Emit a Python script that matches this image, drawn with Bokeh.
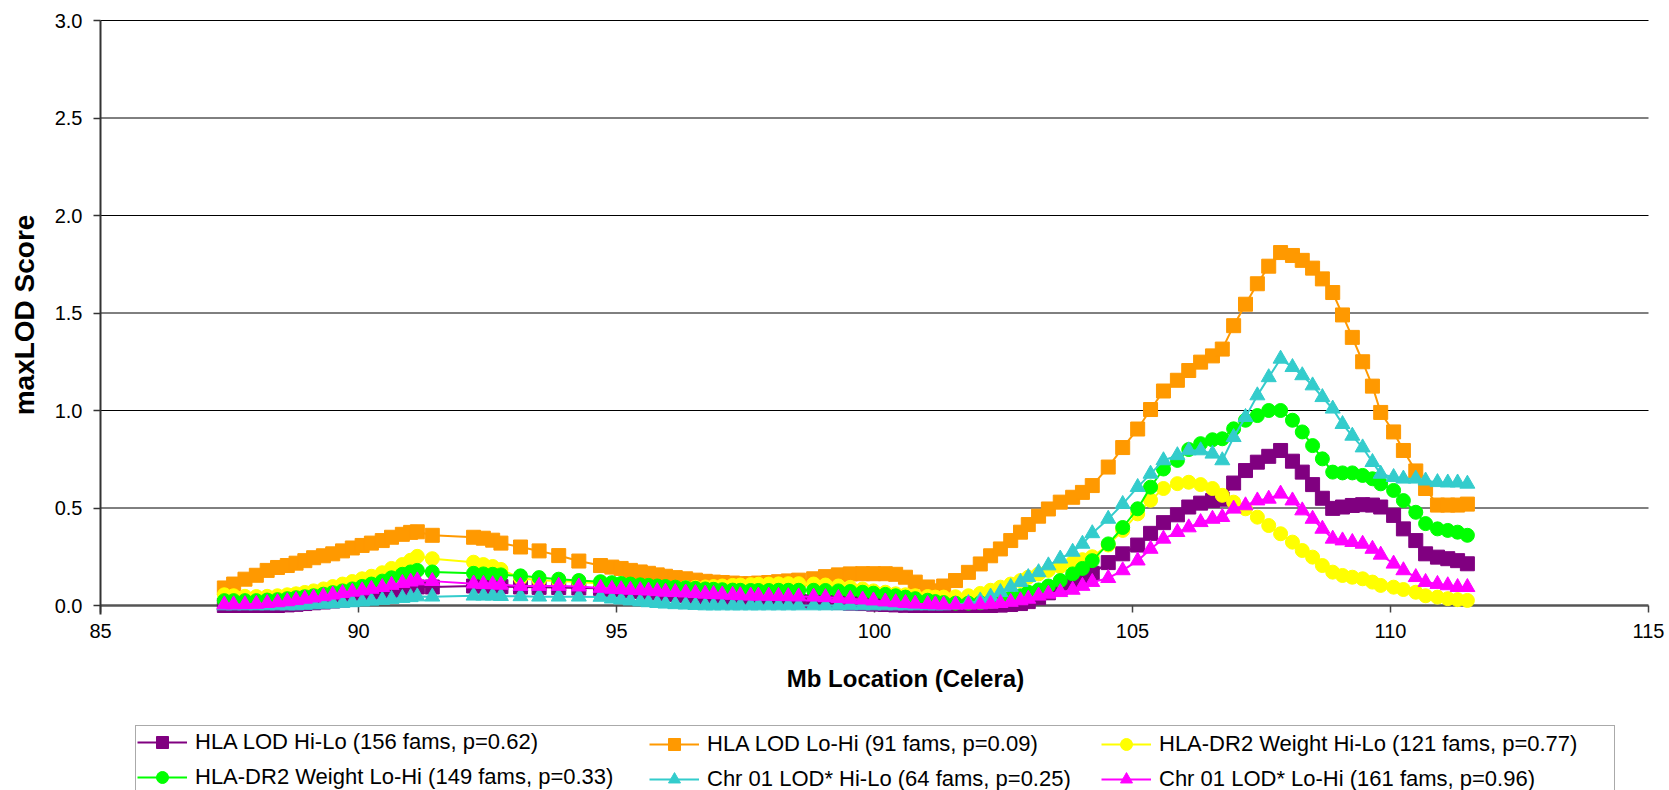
import math
from bokeh.plotting import figure
from bokeh.models import Range1d, FixedTicker, PrintfTickFormatter, Legend, LegendItem, Label
from bokeh.embed import file_html
from bokeh.resources import INLINE

# ---------------- data ----------------
x_ticks = [85, 90, 95, 100, 105, 110, 115]
y_ticks = [0.0, 0.5, 1.0, 1.5, 2.0, 2.5, 3.0]
x_title = "Mb Location (Celera)"
y_title = "maxLOD Score"

x_mb = [
    87.40, 87.58, 87.80, 88.02, 88.23, 88.43, 88.62, 88.79, 88.96, 89.13, 89.32,
    89.50, 89.69, 89.88, 90.07, 90.25, 90.46, 90.64, 90.85, 91.01, 91.14,
    91.43,
    92.23, 92.42, 92.60, 92.76,
    93.14, 93.50, 93.88, 94.27, 94.69,
    94.91, 95.09, 95.27, 95.46, 95.62, 95.79, 95.95, 96.14, 96.34, 96.53, 96.72,
    96.88, 97.05, 97.25, 97.40, 97.60, 97.75, 97.95, 98.14, 98.33, 98.53,
    98.82, 99.05, 99.30, 99.53, 99.77, 99.98, 100.21, 100.41, 100.60, 100.79,
    101.03, 101.18, 101.34, 101.57, 101.82, 102.05, 102.25, 102.44, 102.64, 102.83,
    102.98, 103.18, 103.37, 103.60, 103.84, 104.03, 104.22,
    104.53, 104.81, 105.10, 105.35, 105.60, 105.87, 106.09, 106.32, 106.55, 106.74,
    106.96, 107.19, 107.42, 107.64, 107.87, 108.10, 108.29, 108.49, 108.68, 108.88,
    109.07, 109.26, 109.46, 109.65, 109.81,
    110.06, 110.25, 110.49, 110.68, 110.91, 111.11, 111.30, 111.49,
]

hla_lod_hilo = [
    0, 0, 0, 0, 0, 0, 0.003, 0.006, 0.01, 0.014, 0.018,
    0.023, 0.028, 0.034, 0.04, 0.047, 0.055, 0.064, 0.074, 0.085, 0.095,
    0.095,
    0.10, 0.10, 0.098, 0.097,
    0.095, 0.093, 0.092, 0.09, 0.088,
    0.083, 0.08, 0.076, 0.072, 0.068, 0.064, 0.06, 0.056, 0.052, 0.048, 0.045,
    0.042, 0.04, 0.037, 0.035, 0.033, 0.031, 0.029, 0.027, 0.025, 0.023,
    0.02, 0.018, 0.015, 0.012, 0.01, 0.007, 0.005, 0.003, 0.001, 0,
    0, 0, 0, 0, 0, 0, 0, 0.002, 0.005, 0.01,
    0.02, 0.04, 0.065, 0.09, 0.115, 0.14, 0.165,
    0.22, 0.265, 0.31, 0.37, 0.425, 0.465, 0.505, 0.525, 0.538, 0.545,
    0.628, 0.692, 0.735, 0.765, 0.795, 0.74, 0.684, 0.62, 0.55, 0.498,
    0.505, 0.513, 0.517, 0.515, 0.505,
    0.462, 0.393, 0.333, 0.265, 0.248, 0.24, 0.23, 0.214,
]

hla_lod_lohi = [
    0.09, 0.11, 0.135, 0.155, 0.18, 0.195, 0.205, 0.217, 0.23, 0.245, 0.255,
    0.265, 0.28, 0.295, 0.308, 0.32, 0.333, 0.35, 0.365, 0.375, 0.378,
    0.36,
    0.35, 0.345, 0.335, 0.32,
    0.30, 0.28, 0.256, 0.228, 0.205,
    0.197, 0.19, 0.18, 0.172, 0.165, 0.157, 0.15, 0.143, 0.137, 0.13, 0.124,
    0.12, 0.118, 0.115, 0.112, 0.112, 0.115, 0.118, 0.122, 0.126, 0.13,
    0.137, 0.148, 0.157, 0.162, 0.163, 0.163, 0.163, 0.16, 0.145, 0.12,
    0.095, 0.075, 0.10, 0.128, 0.17, 0.213, 0.255, 0.29, 0.333, 0.376,
    0.415, 0.458, 0.495, 0.53, 0.555, 0.58, 0.615,
    0.71, 0.81, 0.905, 1.005, 1.10, 1.155, 1.205, 1.248, 1.28, 1.315,
    1.435, 1.545, 1.65, 1.74, 1.81, 1.795, 1.77, 1.73, 1.675, 1.605,
    1.49, 1.375, 1.25, 1.125, 0.99,
    0.89, 0.795, 0.69, 0.60, 0.515, 0.515, 0.515, 0.52,
]

dr2_weight_hilo = [
    0.055, 0.05, 0.047, 0.046, 0.047, 0.05, 0.055, 0.06, 0.067, 0.075, 0.085,
    0.097, 0.11, 0.123, 0.137, 0.15, 0.168, 0.19, 0.21, 0.232, 0.252,
    0.24,
    0.222, 0.21, 0.20, 0.185,
    0.14, 0.13, 0.125, 0.12, 0.113,
    0.108, 0.104, 0.10, 0.098, 0.096, 0.094, 0.093, 0.092, 0.092, 0.093, 0.095,
    0.097, 0.10, 0.103, 0.105, 0.107, 0.109, 0.11, 0.111, 0.112, 0.112,
    0.11, 0.105, 0.10, 0.093, 0.085, 0.075, 0.068, 0.06, 0.055, 0.05,
    0.046, 0.043, 0.043, 0.045, 0.05, 0.062, 0.078, 0.094, 0.11, 0.128,
    0.145, 0.162, 0.18, 0.2, 0.22, 0.235, 0.25,
    0.31, 0.385, 0.47, 0.54, 0.60, 0.625, 0.632, 0.62, 0.60, 0.565,
    0.53, 0.496, 0.453, 0.41, 0.368, 0.325, 0.282, 0.248, 0.205, 0.171,
    0.154, 0.145, 0.137, 0.12, 0.103,
    0.094, 0.082, 0.068, 0.05, 0.043, 0.035, 0.03, 0.026,
]

dr2_weight_lohi = [
    0.025, 0.025, 0.025, 0.025, 0.028, 0.03, 0.035, 0.04, 0.045, 0.05, 0.058,
    0.066, 0.075, 0.085, 0.098, 0.11, 0.125, 0.142, 0.16, 0.172, 0.18,
    0.172,
    0.165, 0.162, 0.16, 0.157,
    0.152, 0.143, 0.135, 0.128, 0.122,
    0.117, 0.113, 0.11, 0.106, 0.103, 0.10, 0.097, 0.094, 0.091, 0.088, 0.085,
    0.083, 0.081, 0.079, 0.078, 0.077, 0.077, 0.077, 0.078, 0.078, 0.078,
    0.078, 0.077, 0.075, 0.072, 0.068, 0.063, 0.057, 0.05, 0.043, 0.035,
    0.027, 0.02, 0.015, 0.012, 0.012, 0.014, 0.02, 0.028, 0.038, 0.05,
    0.068, 0.08, 0.10, 0.128, 0.162, 0.19, 0.23,
    0.316, 0.40, 0.496, 0.607, 0.70, 0.744, 0.80, 0.83, 0.85, 0.855,
    0.906, 0.95, 0.974, 1.0, 1.0, 0.95, 0.89, 0.82, 0.752, 0.684,
    0.68, 0.68, 0.667, 0.65, 0.624,
    0.59, 0.538, 0.478, 0.42, 0.393, 0.385, 0.376, 0.36,
]

chr01_lod_hilo = [
    0, 0, 0, 0, 0, 0, 0, 0, 0.003, 0.005, 0.008,
    0.01, 0.013, 0.016, 0.02, 0.024, 0.028, 0.033, 0.038, 0.042, 0.046,
    0.045,
    0.05, 0.05, 0.05, 0.048,
    0.047, 0.045, 0.045, 0.045, 0.044,
    0.035, 0.03, 0.025, 0.02, 0.016, 0.012, 0.009, 0.006, 0.004, 0.002, 0,
    0, 0, 0, 0, 0, 0, 0, 0, 0, 0,
    0, 0, 0, 0, 0, 0, 0, 0, 0, 0,
    0, 0, 0, 0.005, 0.012, 0.025, 0.045, 0.068, 0.095, 0.12,
    0.145, 0.17, 0.205, 0.24, 0.275, 0.316, 0.37,
    0.444, 0.52, 0.607, 0.675, 0.744, 0.77, 0.795, 0.795, 0.778, 0.744,
    0.863, 0.966, 1.077, 1.17, 1.265, 1.222, 1.18, 1.128, 1.068, 1.009,
    0.93, 0.87, 0.81, 0.735, 0.675,
    0.658, 0.65, 0.65, 0.64, 0.632, 0.63, 0.63, 0.624,
]

chr01_lod_lohi = [
    0.005, 0.005, 0.006, 0.008, 0.012, 0.016, 0.021, 0.027, 0.034, 0.04, 0.047,
    0.055, 0.063, 0.07, 0.077, 0.085, 0.094, 0.105, 0.115, 0.122, 0.128,
    0.125,
    0.112, 0.11, 0.108, 0.106,
    0.10, 0.10, 0.10, 0.097, 0.09,
    0.085, 0.083, 0.08, 0.078, 0.076, 0.073, 0.07, 0.068, 0.066, 0.063, 0.06,
    0.058, 0.056, 0.054, 0.052, 0.05, 0.05, 0.049, 0.048, 0.047, 0.046,
    0.045, 0.042, 0.038, 0.034, 0.03, 0.025, 0.02, 0.016, 0.012, 0.009,
    0.007, 0.005, 0.004, 0.004, 0.004, 0.005, 0.008, 0.012, 0.018, 0.026,
    0.034, 0.05, 0.06, 0.068, 0.08, 0.10, 0.12,
    0.14, 0.18, 0.23, 0.29, 0.342, 0.376, 0.40, 0.427, 0.444, 0.453,
    0.496, 0.513, 0.538, 0.547, 0.573, 0.538, 0.487, 0.444, 0.393, 0.342,
    0.333, 0.325, 0.316, 0.29, 0.26,
    0.214, 0.18, 0.145, 0.12, 0.11, 0.103, 0.094, 0.094,
]

series_labels = [
    "HLA LOD Hi-Lo (156 fams, p=0.62)",
    "HLA LOD Lo-Hi (91 fams, p=0.09)",
    "HLA-DR2 Weight Hi-Lo (121 fams, p=0.77)",
    "HLA-DR2 Weight Lo-Hi (149 fams, p=0.33)",
    "Chr 01 LOD* Hi-Lo (64 fams, p=0.25)",
    "Chr 01 LOD* Lo-Hi (161 fams, p=0.96)",
]
series_values = [hla_lod_hilo, hla_lod_lohi, dr2_weight_hilo,
                 dr2_weight_lohi, chr01_lod_hilo, chr01_lod_lohi]
series_colors = ["#800080", "#FF9900", "#FFFF00", "#00FF00", "#33CCCC", "#FF00FF"]
series_markers = ["square", "square", "circle", "circle", "triangle", "triangle"]
series_sizes = [14, 14, 14, 14, 15, 15]

for lab, vals in zip(series_labels, series_values):
    if len(vals) != len(x_mb):
        raise ValueError(f"{lab}: {len(vals)} values vs {len(x_mb)} x")

# ---------------- figure ----------------
FONT = "Liberation Sans"
W, H = 1669, 790
PX_X = 1548 / 30.0          # pixels per Mb
PX_Y = 585 / 3.0            # pixels per LOD unit
LEFT, TOP, ZERO_Y = 100, 20, 605   # pixel position of x=85, y=3.0, y=0

# The data frame covers the whole page, so that axes, titles and legend drawn
# inside it are never clipped; the axes sit at x = 85 and y = 0.
p = figure(width=W, height=H, output_backend="svg", toolbar_location=None,
           x_range=Range1d(85 - LEFT / PX_X, 115 + (W - LEFT - 1548) / PX_X),
           y_range=Range1d(-(H - ZERO_Y) / PX_Y, 3.0 + TOP / PX_Y),
           min_border_left=0, min_border_right=0, min_border_top=0,
           min_border_bottom=0, background_fill_color="white",
           border_fill_color="white")
p.outline_line_color = None
p.title.visible = False
p.xgrid.visible = False
p.ygrid.visible = False

# horizontal grid lines between x = 85 and x = 115
grid_y = y_ticks[1:]
p.segment(x0=[x_ticks[0]] * len(grid_y), x1=[x_ticks[-1]] * len(grid_y),
          y0=grid_y, y1=grid_y, line_color="black", line_width=1)

# y axis at x = 85
p.yaxis.fixed_location = x_ticks[0]
p.yaxis.bounds = (-0.046, y_ticks[-1])
p.yaxis.ticker = FixedTicker(ticks=y_ticks)
p.yaxis.formatter = PrintfTickFormatter(format="%.1f")
p.yaxis.axis_line_color = "#333333"
p.yaxis.axis_line_width = 2
p.yaxis.major_tick_line_color = "#333333"
p.yaxis.major_tick_line_width = 1.5
p.yaxis.major_tick_out = 7
p.yaxis.major_tick_in = 0
p.yaxis.minor_tick_line_color = None
p.yaxis.major_label_standoff = 11
p.yaxis.major_label_text_font = FONT
p.yaxis.major_label_text_font_size = "20px"
p.yaxis.major_label_text_color = "black"

# x axis at y = 0
p.xaxis.fixed_location = 0
p.xaxis.bounds = (x_ticks[0], x_ticks[-1])
p.xaxis.ticker = FixedTicker(ticks=x_ticks)
p.xaxis.axis_line_color = "#555555"
p.xaxis.axis_line_width = 2.5
p.xaxis.major_tick_line_color = "#444444"
p.xaxis.major_tick_line_width = 1.5
p.xaxis.major_tick_in = 0
p.xaxis.major_tick_out = 7
p.xaxis.minor_tick_line_color = None
p.xaxis.major_label_standoff = 11
p.xaxis.major_label_text_font = FONT
p.xaxis.major_label_text_font_size = "20px"
p.xaxis.major_label_text_color = "black"
p.xaxis.level = "underlay"

# axis titles
p.add_layout(Label(x=100.6, y=-0.374, text=x_title, text_align="center",
                   text_baseline="middle", text_font=FONT, text_font_style="bold",
                   text_font_size="24px", text_color="black"))
p.add_layout(Label(x=83.53, y=1.49, text=y_title, angle=math.pi / 2,
                   text_align="center", text_baseline="middle", text_font=FONT,
                   text_font_style="bold", text_font_size="28px",
                   text_color="black"))

renderers = []
for vals, col, mk, sz in zip(series_values, series_colors, series_markers, series_sizes):
    rl = p.line(x_mb, vals, line_color=col, line_width=2)
    rs = p.scatter(x_mb, vals, marker=mk, size=sz, fill_color=col, line_color=col)
    renderers.append([rl, rs])

# legend: three columns placed like the reference, one shared frame
columns = [[0, 3], [1, 4], [2, 5]]
col_x = [135, 649, 1101]          # left edge of each column (page pixels)
for ci, (idxs, lx) in enumerate(zip(columns, col_x)):
    items = [LegendItem(label=series_labels[i], renderers=renderers[i]) for i in idxs]
    leg = Legend(items=items, location=(lx, -4), orientation="vertical",
                 padding=1, spacing=5, margin=0, glyph_width=50, glyph_height=30,
                 label_height=30, label_standoff=8,
                 label_text_font=FONT, label_text_font_size="22px",
                 label_text_color="black")
    if ci == 0:
        leg.label_width = 1478 - 2 - 50 - 8
        leg.border_line_color = "#555555"
        leg.border_line_width = 1.5
        leg.background_fill_color = "white"
        leg.background_fill_alpha = 1.0
    else:
        leg.border_line_color = None
        leg.background_fill_alpha = 0.0
    p.add_layout(leg, "center")

open("out.html", "w").write(file_html(p, INLINE))
